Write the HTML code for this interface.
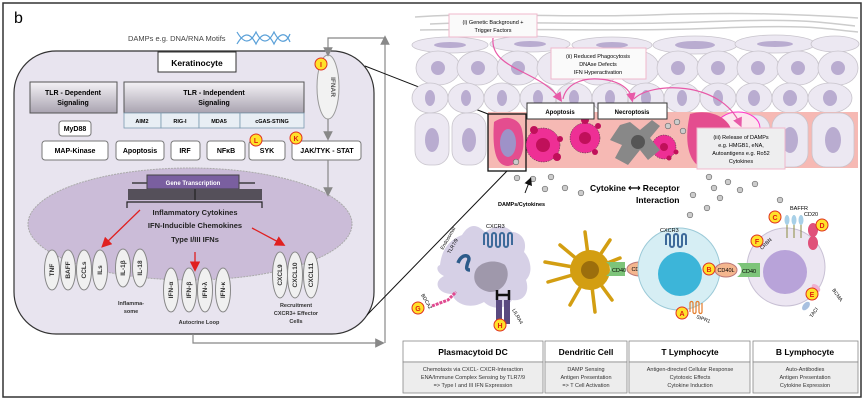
<!DOCTYPE html>
<html><head><meta charset="utf-8"><style>
html,body{margin:0;padding:0;background:#fff}
svg{display:block}
text{font-family:"Liberation Sans",Arial,sans-serif}
</style></head><body>
<svg width="865" height="405" viewBox="0 0 865 405" xmlns="http://www.w3.org/2000/svg">
<defs>
<linearGradient id="tg" x1="0" y1="0" x2="0" y2="1"><stop offset="0" stop-color="#f4f2f6"/><stop offset="1" stop-color="#a9a3b0"/></linearGradient>
<marker id="ga" markerWidth="8" markerHeight="8" refX="4" refY="4" orient="auto"><path d="M0,0 L8,4 L0,8z" fill="#888"/></marker>
<marker id="ra" markerWidth="8" markerHeight="8" refX="5" refY="4" orient="auto"><path d="M0,0 L8,4 L0,8z" fill="#e02020"/></marker>
<marker id="pa" markerWidth="8" markerHeight="8" refX="5" refY="4" orient="auto"><path d="M0,0 L8,4 L0,8z" fill="#e85aa8"/></marker>
<marker id="ka" markerWidth="8" markerHeight="8" refX="5" refY="4" orient="auto"><path d="M0,0 L8,4 L0,8z" fill="#111"/></marker>
</defs>
<rect x="3" y="3" width="858" height="394" fill="#fff" stroke="#333" stroke-width="1.5"/>
<text x="14" y="23" font-size="16">b</text>

<text x="128" y="41" font-size="7.5" fill="#444">DAMPs e.g. DNA/RNA Motifs</text>
<path d="M237,32 C244,44 250,44 256,32 C262,44 268,44 274,32 C280,44 286,44 290,34" fill="none" stroke="#5aa0d8" stroke-width="1.2"/>
<path d="M237,44 C244,32 250,32 256,44 C262,32 268,32 274,44 C280,32 286,32 290,42" fill="none" stroke="#5aa0d8" stroke-width="1.2"/>
<rect x="14" y="51" width="360" height="283" rx="42" fill="#e8e4ef" stroke="#333" stroke-width="1.2"/>
<ellipse cx="190" cy="224" rx="162" ry="56" fill="#cbbcd8" stroke="#aaa" stroke-dasharray="2,1"/>
<rect x="158" y="52" width="78" height="20" fill="#fff" stroke="#333"/>
<text x="197" y="66" font-size="8.5" font-weight="bold" text-anchor="middle">Keratinocyte</text>
<rect x="30" y="82" width="87" height="31" fill="url(#tg)" stroke="#555"/>
<text x="73" y="95" font-size="7" font-weight="bold" text-anchor="middle">TLR - Dependent</text>
<text x="73" y="105" font-size="7" font-weight="bold" text-anchor="middle">Signaling</text>
<rect x="124" y="82" width="180" height="31" fill="url(#tg)" stroke="#555"/>
<text x="214" y="95" font-size="7" font-weight="bold" text-anchor="middle">TLR - Independent</text>
<text x="214" y="105" font-size="7" font-weight="bold" text-anchor="middle">Signaling</text>
<g fill="#e8eef4" stroke="#7a9ab0" stroke-width="0.8">
<rect x="124" y="113" width="37" height="15"/><rect x="161" y="113" width="38" height="15"/><rect x="199" y="113" width="41" height="15"/><rect x="240" y="113" width="64" height="15"/></g>
<g font-size="5.5" font-weight="bold" text-anchor="middle">
<text x="142" y="123">AIM2</text><text x="180" y="123">RIG-I</text><text x="219" y="123">MDA5</text><text x="272" y="123">cGAS-STING</text></g>
<g fill="#fff" stroke="#777">
<rect x="59" y="121" width="32" height="15" rx="3"/>
<rect x="42" y="141" width="66" height="19" rx="3"/><rect x="116" y="141" width="48" height="19" rx="3"/>
<rect x="171" y="141" width="29" height="19" rx="3"/><rect x="207" y="141" width="38" height="19" rx="3"/>
<rect x="249" y="141" width="36" height="19" rx="3"/><rect x="292" y="141" width="69" height="19" rx="3"/></g>
<g font-size="7" font-weight="bold" text-anchor="middle">
<text x="75" y="131">MyD88</text><text x="75" y="153">MAP-Kinase</text><text x="140" y="153">Apoptosis</text>
<text x="185" y="153">IRF</text><text x="226" y="153">NFκB</text><text x="267" y="153">SYK</text><text x="327" y="153">JAK/TYK - STAT</text></g>
<ellipse cx="328" cy="87" rx="11" ry="32" fill="#f2f2f2" stroke="#999"/>
<text x="0" y="0" font-size="6.5" font-weight="bold" fill="#555" transform="translate(331,87) rotate(90)" text-anchor="middle">IFNAR</text>
<path d="M193,334 V343 H380" fill="none" stroke="#888" stroke-width="1.2" marker-end="url(#ga)"/>
<path d="M385,343 V40" fill="none" stroke="#888" stroke-width="1.2" marker-end="url(#ga)"/>
<path d="M385,38 H328 V52" fill="none" stroke="#888" stroke-width="1.2" marker-end="url(#ga)"/>
<path d="M328,119 V136" stroke="#888" stroke-width="1.2" marker-end="url(#ga)"/>
<path d="M328,160 V192" stroke="#888" stroke-width="1.2" marker-end="url(#ga)"/>
<line x1="132" y1="183" x2="255" y2="183" stroke="#222" stroke-width="1.2"/>
<rect x="147" y="175" width="92" height="14" fill="#7a5fa0" stroke="#444"/>
<text x="193" y="185" font-size="6" font-weight="bold" fill="#fff" text-anchor="middle">Gene Transcription</text>
<rect x="128" y="189" width="134" height="11" fill="#55505a"/>
<path d="M195,189 V200 M127,208 V202 H262 V208" fill="none" stroke="#222" stroke-width="1.2"/>
<g font-size="7.5" font-weight="bold" text-anchor="middle" fill="#222">
<text x="195" y="215">Inflammatory Cytokines</text><text x="195" y="228">IFN-Inducible Chemokines</text><text x="195" y="242">Type I/III IFNs</text></g>
<g stroke="#e02020" stroke-width="1.3" fill="none">
<line x1="140" y1="210" x2="104" y2="245" marker-end="url(#ra)"/>
<line x1="252" y1="228" x2="282" y2="244" marker-end="url(#ra)"/>
<line x1="195" y1="252" x2="195" y2="268" marker-end="url(#ra)"/></g>
<g fill="#f0f0f0" stroke="#888">
<ellipse cx="52" cy="270" rx="7.5" ry="20"/><ellipse cx="68" cy="270" rx="7.5" ry="20"/><ellipse cx="84" cy="270" rx="7.5" ry="20"/><ellipse cx="100" cy="270" rx="7.5" ry="20"/>
<ellipse cx="123" cy="268" rx="7.5" ry="19"/><ellipse cx="140" cy="268" rx="7.5" ry="19"/>
<ellipse cx="171" cy="290" rx="7.5" ry="22"/><ellipse cx="189" cy="290" rx="7.5" ry="22"/><ellipse cx="205" cy="290" rx="7.5" ry="22"/><ellipse cx="223" cy="290" rx="7.5" ry="22"/>
<ellipse cx="280" cy="275" rx="7.5" ry="23"/><ellipse cx="295" cy="275" rx="7.5" ry="23"/><ellipse cx="311" cy="275" rx="7.5" ry="23"/></g>
<g font-size="6.5" font-weight="bold" fill="#333" text-anchor="middle">
<text transform="translate(54,270) rotate(-90)">TNF</text><text transform="translate(70,270) rotate(-90)">BAFF</text>
<text transform="translate(86,270) rotate(-90)">CCLs</text><text transform="translate(102,270) rotate(-90)">ILs</text>
<text transform="translate(125,268) rotate(-90)">IL-1β</text><text transform="translate(142,268) rotate(-90)">IL-18</text>
<text transform="translate(173,290) rotate(-90)">IFN-α</text><text transform="translate(191,290) rotate(-90)">IFN-β</text>
<text transform="translate(207,290) rotate(-90)">IFN-λ</text><text transform="translate(225,290) rotate(-90)">IFN-κ</text>
<text transform="translate(282,275) rotate(-90)">CXCL9</text><text transform="translate(297,275) rotate(-90)">CXCL10</text>
<text transform="translate(313,275) rotate(-90)">CXCL11</text></g>
<g font-size="5.5" font-weight="bold" fill="#333" text-anchor="middle">
<text x="131" y="305">Inflamma-</text><text x="131" y="313">some</text>
<text x="199" y="324">Autocrine Loop</text>
<text x="296" y="307">Recruitment</text><text x="296" y="315">CXCR3+ Effector</text><text x="296" y="323">Cells</text></g>
<line x1="365" y1="66" x2="488" y2="114" stroke="#111" stroke-width="1"/>
<line x1="367" y1="315" x2="507" y2="171" stroke="#111" stroke-width="1"/>

<g stroke="#ccc" fill="none" stroke-width="1.5">
<path d="M415,17 C480,12 560,18 650,15 S800,14 858,18"/>
<path d="M430,24 C500,20 600,26 700,22 S820,22 855,26"/>
<path d="M420,30 C520,28 620,32 720,28 S830,30 858,32"/></g>
<g fill="#ece8f2" stroke="#c8c4cc" stroke-width="0.8">
<ellipse cx="450" cy="45" rx="38" ry="8"/><ellipse cx="530" cy="44" rx="40" ry="8"/><ellipse cx="612" cy="45" rx="40" ry="8"/>
<ellipse cx="695" cy="45" rx="42" ry="9"/><ellipse cx="775" cy="44" rx="40" ry="9"/><ellipse cx="835" cy="44" rx="24" ry="8"/>
</g>
<g fill="#ece8f2" stroke="#c8c4cc" stroke-width="0.8">
<ellipse cx="438" cy="68" rx="22" ry="17"/><ellipse cx="478" cy="68" rx="21" ry="17"/><ellipse cx="518" cy="68" rx="21" ry="17"/>
<ellipse cx="558" cy="68" rx="21" ry="17"/><ellipse cx="598" cy="68" rx="21" ry="17"/><ellipse cx="638" cy="68" rx="21" ry="17"/>
<ellipse cx="678" cy="68" rx="21" ry="17"/><ellipse cx="718" cy="68" rx="21" ry="17"/><ellipse cx="758" cy="68" rx="21" ry="17"/>
<ellipse cx="798" cy="68" rx="21" ry="17"/><ellipse cx="838" cy="68" rx="20" ry="17"/>
<ellipse cx="430" cy="98" rx="18" ry="15"/><ellipse cx="466" cy="98" rx="18" ry="15"/><ellipse cx="502" cy="98" rx="18" ry="15"/>
<ellipse cx="538" cy="98" rx="18" ry="15"/><ellipse cx="574" cy="98" rx="18" ry="15"/><ellipse cx="610" cy="98" rx="18" ry="15"/>
<ellipse cx="646" cy="98" rx="18" ry="15"/><ellipse cx="682" cy="98" rx="18" ry="15"/><ellipse cx="718" cy="98" rx="18" ry="15"/>
<ellipse cx="754" cy="98" rx="18" ry="15"/><ellipse cx="790" cy="98" rx="18" ry="15"/><ellipse cx="830" cy="98" rx="22" ry="15"/>
</g>
<g fill="#b9acd0">
<ellipse cx="450" cy="45" rx="16" ry="3"/><ellipse cx="530" cy="44" rx="16" ry="3"/><ellipse cx="612" cy="45" rx="16" ry="3"/>
<ellipse cx="695" cy="45" rx="20" ry="4"/><ellipse cx="775" cy="44" rx="18" ry="3"/>
<circle cx="438" cy="68" r="7"/><circle cx="478" cy="68" r="7"/><circle cx="518" cy="68" r="7"/><circle cx="558" cy="68" r="7"/>
<circle cx="598" cy="68" r="7"/><circle cx="638" cy="68" r="7"/><circle cx="678" cy="68" r="7"/><circle cx="718" cy="68" r="7"/>
<circle cx="758" cy="68" r="7"/><circle cx="798" cy="68" r="7"/><circle cx="838" cy="68" r="7"/>
<ellipse cx="430" cy="98" rx="5" ry="8"/><ellipse cx="466" cy="98" rx="5" ry="8"/><ellipse cx="502" cy="98" rx="5" ry="8"/>
<ellipse cx="538" cy="98" rx="5" ry="8"/><ellipse cx="574" cy="98" rx="5" ry="8"/><ellipse cx="610" cy="98" rx="5" ry="8"/>
<ellipse cx="646" cy="98" rx="5" ry="8"/><ellipse cx="682" cy="98" rx="5" ry="8"/><ellipse cx="718" cy="98" rx="5" ry="8"/>
<ellipse cx="754" cy="98" rx="6" ry="8"/><ellipse cx="790" cy="98" rx="7" ry="8"/><ellipse cx="830" cy="98" rx="7" ry="8"/>
</g>
<rect x="488" y="112" width="370" height="56" fill="#f6b9b4"/>
<g fill="#ece8f2" stroke="#c8c4cc" stroke-width="0.8">
<rect x="415" y="113" width="34" height="52" rx="14"/><rect x="452" y="113" width="34" height="52" rx="14"/>
<rect x="738" y="115" width="32" height="52" rx="14"/><rect x="772" y="113" width="36" height="54" rx="14"/><rect x="812" y="113" width="42" height="54" rx="14"/></g>
<g fill="#b9acd0"><ellipse cx="432" cy="140" rx="7" ry="12"/><ellipse cx="469" cy="140" rx="7" ry="12"/>
<ellipse cx="790" cy="140" rx="8" ry="13"/><ellipse cx="833" cy="140" rx="8" ry="13"/></g>
<ellipse cx="738" cy="128" rx="22" ry="16" fill="#fce6ee" stroke="#f3c"/>
<path d="M494,122 C505,114 520,118 522,130 C526,148 522,164 508,166 C496,166 492,150 494,122z" fill="#e44d8f"/>
<ellipse cx="508" cy="143" rx="8" ry="14" fill="#9e92c8"/>
<rect x="488" y="114" width="38" height="57" fill="none" stroke="#111" stroke-width="1.3"/>
<g stroke="#333" stroke-width="0.5" stroke-dasharray="1.5,1">
<circle cx="543" cy="145" r="17" fill="#ee2f95"/><circle cx="585" cy="138" r="15" fill="#ee2f95"/><circle cx="664" cy="147" r="12" fill="#ee2f95"/></g>
<g fill="#c0105a"><circle cx="543" cy="145" r="7"/><circle cx="585" cy="138" r="6"/><circle cx="664" cy="147" r="4"/>
<circle cx="534" cy="130" r="4"/><circle cx="560" cy="139" r="3"/><circle cx="557" cy="157" r="4"/><circle cx="585" cy="120" r="4"/>
<circle cx="598" cy="126" r="3"/><circle cx="595" cy="152" r="3"/><circle cx="669" cy="158" r="2.5"/><circle cx="676" cy="152" r="2.5"/></g>
<path d="M620,125 L630,122 640,130 652,120 660,126 650,138 660,150 648,160 640,150 628,165 615,158 622,145 610,140z" fill="#888"/>
<circle cx="638" cy="142" r="7" fill="#555"/>
<path d="M690,114 C710,108 732,118 732,135 L732,165 L700,167 C688,160 684,140 690,114z" fill="#e44d8f"/>
<rect x="449" y="14" width="88" height="23" fill="#fafafa" stroke="#f0b8cc"/>
<text x="493" y="24" font-size="5.5" text-anchor="middle">(i) Genetic Background +</text>
<text x="493" y="32" font-size="5.5" text-anchor="middle">Trigger Factors</text>
<rect x="551" y="48" width="95" height="31" fill="#fafafa" stroke="#f0b8cc"/>
<text x="598" y="58" font-size="5.5" text-anchor="middle">(ii) Reduced Phagocytosis</text>
<text x="598" y="66" font-size="5.5" text-anchor="middle">DNAse Defects</text>
<text x="598" y="74" font-size="5.5" text-anchor="middle">IFN Hyperactivation</text>
<g fill="none" stroke="#e85aa8" stroke-width="1.2">
<path d="M493,38 C490,70 540,70 560,99" marker-end="url(#pa)"/>
<path d="M563,99 C566,84 582,78 598,79"/>
<path d="M598,79 C618,80 630,88 632,99" marker-end="url(#pa)"/>
<path d="M634,99 C650,82 720,80 740,124" marker-end="url(#pa)"/></g>
<rect x="527" y="103" width="67" height="16" fill="#fff" stroke="#333"/>
<text x="560" y="114" font-size="6" font-weight="bold" text-anchor="middle">Apoptosis</text>
<rect x="598" y="103" width="69" height="16" fill="#fff" stroke="#333"/>
<text x="632" y="114" font-size="6" font-weight="bold" text-anchor="middle">Necroptosis</text>
<rect x="697" y="128" width="88" height="41" fill="#eeeeef" stroke="#f0b8cc"/>
<g font-size="5.5" text-anchor="middle"><text x="741" y="139">(iii) Release of DAMPs</text><text x="741" y="147">e.g. HMGB1, eNA,</text>
<text x="741" y="155">Autoantigens e.g. Ro52</text><text x="741" y="163">Cytokines</text></g>
<g fill="#ccc" stroke="#666" stroke-width="0.6">
<circle cx="516" cy="162" r="2.8"/><circle cx="517" cy="178" r="2.8"/><circle cx="533" cy="179" r="2.8"/><circle cx="551" cy="177" r="2.8"/>
<circle cx="545" cy="189" r="2.8"/><circle cx="565" cy="188" r="2.8"/><circle cx="581" cy="193" r="2.8"/>
<circle cx="668" cy="126" r="2.8"/><circle cx="677" cy="122" r="2.8"/><circle cx="683" cy="131" r="2.8"/>
<circle cx="709" cy="177" r="2.8"/><circle cx="714" cy="188" r="2.8"/><circle cx="728" cy="182" r="2.8"/>
<circle cx="740" cy="190" r="2.8"/><circle cx="755" cy="184" r="2.8"/><circle cx="693" cy="195" r="2.8"/>
<circle cx="720" cy="198" r="2.8"/><circle cx="707" cy="208" r="2.8"/><circle cx="690" cy="215" r="2.8"/><circle cx="780" cy="200" r="2.8"/></g>
<text x="590" y="191" font-size="8.5" font-weight="bold">Cytokine ⟷ Receptor</text>
<text x="636" y="203" font-size="8.5" font-weight="bold">Interaction</text>
<line x1="525" y1="193" x2="530" y2="180" stroke="#111" marker-end="url(#ka)"/>
<text x="498" y="206" font-size="5.5" font-weight="bold">DAMPs/Cytokines</text>
<path d="M440,265 C442,248 450,240 462,235 C470,222 478,225 485,232 C495,225 505,224 512,232 C520,232 528,240 524,252 C530,258 534,272 526,280 C530,292 524,302 512,300 C504,312 490,308 484,302 C470,310 455,304 452,294 C438,294 432,282 444,276 C436,272 436,266 440,265z" fill="#d6d0e6"/>
<path d="M475,272 C478,262 495,258 505,265 C512,275 505,292 490,292 C478,290 472,282 475,272z" fill="#9f98ab"/>
<path d="M458,263 C462,252 472,255 468,262 C466,268 466,270 470,270" fill="none" stroke="#2c5b8a" stroke-width="3.5"/>
<path d="M484,245 v-10 a2,2 0 0 1 4,0 v10 a2,2 0 0 0 4,0 v-10 a2,2 0 0 1 4,0 v10 a2,2 0 0 0 4,0 v-10 a2,2 0 0 1 4,0 v10 a2,2 0 0 0 4,0 v-10 a2,2 0 0 1 4,0 v10" fill="none" stroke="#3d6a9a" stroke-width="2"/>
<path d="M432,306 L448,300 456,292" fill="none" stroke="#e04a90" stroke-width="3" stroke-dasharray="3,1"/>
<rect x="496" y="300" width="6" height="24" fill="#5a4a80"/><rect x="504" y="300" width="6" height="24" fill="#5a4a80"/>
<path d="M497,290 V300 M509,290 V300 M497,295 H509" stroke="#111" stroke-width="2.5" fill="none"/>
<text x="486" y="228" font-size="5.5">CXCR3</text>
<text transform="translate(443,250) rotate(-60)" font-size="5">Endosomal</text>
<text transform="translate(450,254) rotate(-60)" font-size="5">TLR7/9</text>
<text transform="translate(421,295) rotate(60)" font-size="5">BDCA2</text>
<text transform="translate(512,310) rotate(60)" font-size="5">LILRA4</text>
<g stroke="#d39e12" stroke-width="3.5" stroke-linecap="round">
<line x1="590" y1="270" x2="560" y2="245"/><line x1="590" y1="270" x2="545" y2="262"/><line x1="590" y1="270" x2="548" y2="282"/>
<line x1="590" y1="270" x2="570" y2="305"/><line x1="590" y1="270" x2="595" y2="312"/><line x1="590" y1="270" x2="612" y2="300"/>
<line x1="590" y1="270" x2="585" y2="232"/><line x1="590" y1="270" x2="610" y2="240"/><line x1="590" y1="270" x2="620" y2="258"/></g>
<circle cx="590" cy="270" r="20" fill="#d39e12"/>
<circle cx="590" cy="270" r="9" fill="#9c6e0c"/>
<path d="M606,262 L625,262 L625,276 L606,276 C612,272 612,266 606,262z" fill="#7dc47a"/>
<text x="612" y="272" font-size="5.5">CD40</text>
<ellipse cx="640" cy="269" rx="13" ry="7" fill="#f4b68e" stroke="#b77"/>
<text x="640" y="271" font-size="5.5" text-anchor="middle">CD40L</text>
<circle cx="679" cy="269" r="41" fill="#d6eef4" stroke="#9ccad8"/>
<circle cx="680" cy="274" r="22" fill="#3cb5d9"/>
<path d="M666,245 v-9 a2,2 0 0 1 4,0 v9 a2,2 0 0 0 4,0 v-9 a2,2 0 0 1 4,0 v9 a2,2 0 0 0 4,0 v-9 a2,2 0 0 1 4,0 v9" fill="none" stroke="#3d6a9a" stroke-width="2"/>
<text x="660" y="232" font-size="5.5">CXCR3</text>
<path d="M690,312 v-9 a1.5,1.5 0 0 1 3,0 v9 a1.5,1.5 0 0 0 3,0 v-9 a1.5,1.5 0 0 1 3,0 v9 a1.5,1.5 0 0 0 3,0 v-9" fill="none" stroke="#e47c2a" stroke-width="1.2"/>
<text transform="translate(696,318) rotate(20)" font-size="5">SIPR1</text>
<ellipse cx="726" cy="270" rx="11" ry="7" fill="#f4b68e" stroke="#b77"/>
<text x="726" y="272" font-size="5.5" text-anchor="middle">CD40L</text>
<circle cx="786" cy="267" r="39" fill="#ece6f2" stroke="#c8c0d4"/>
<circle cx="785" cy="272" r="22" fill="#b8a3d9"/>
<path d="M737,263 L760,263 L760,277 L737,277 C743,273 743,267 737,263z" fill="#7dc47a"/>
<text x="742" y="273" font-size="5.5">CD40</text>
<g stroke="#8a8a40" stroke-width="1"><line x1="787" y1="215" x2="787" y2="238"/><line x1="794" y1="215" x2="794" y2="238"/><line x1="801" y1="215" x2="801" y2="238"/></g>
<g fill="#a8d0e8"><ellipse cx="787" cy="220" rx="2.5" ry="5"/><ellipse cx="794" cy="220" rx="2.5" ry="5"/><ellipse cx="801" cy="220" rx="2.5" ry="5"/></g>
<text x="790" y="210" font-size="5.5">BAFFR</text>
<text x="804" y="216" font-size="5.5">CD20</text>
<ellipse cx="813" cy="230" rx="5" ry="7" fill="#e0507a"/><ellipse cx="813" cy="243" rx="5" ry="7" fill="#e0507a"/>
<text transform="translate(762,250) rotate(-45)" font-size="5">CRBN</text>
<ellipse cx="816" cy="288" rx="5" ry="3" fill="#f0b0d0" transform="rotate(40 816 288)"/>
<ellipse cx="806" cy="306" rx="5" ry="3" fill="#a8c0e0" transform="rotate(-50 806 306)"/>
<text transform="translate(832,290) rotate(55)" font-size="5">BCMA</text>
<text transform="translate(812,318) rotate(-55)" font-size="5">TACI</text>
<g fill="#ffe22a" stroke="#e03020" stroke-width="1">
<circle cx="321" cy="64" r="6"/><circle cx="256" cy="140" r="6"/><circle cx="296" cy="138" r="6"/>
<circle cx="418" cy="308" r="6"/><circle cx="500" cy="325" r="6"/><circle cx="682" cy="313" r="6"/><circle cx="709" cy="269" r="6"/>
<circle cx="775" cy="217" r="6"/><circle cx="822" cy="225" r="6"/><circle cx="812" cy="294" r="6"/><circle cx="757" cy="241" r="6"/></g>
<g font-size="7" font-weight="bold" fill="#e02010" text-anchor="middle">
<text x="321" y="67">I</text><text x="256" y="143">L</text><text x="296" y="141">K</text><text x="418" y="311">G</text>
<text x="500" y="328">H</text><text x="682" y="316">A</text><text x="709" y="272">B</text><text x="775" y="220">C</text>
<text x="822" y="228">D</text><text x="812" y="297">E</text><text x="757" y="244">F</text></g>
<g stroke="#888" stroke-width="0.8">
<rect x="403" y="341" width="140" height="21" fill="#fff"/><rect x="545" y="341" width="82" height="21" fill="#fff"/>
<rect x="629" y="341" width="121" height="21" fill="#fff"/><rect x="753" y="341" width="105" height="21" fill="#fff"/>
<rect x="403" y="362" width="140" height="31" fill="#ededed"/><rect x="545" y="362" width="82" height="31" fill="#ededed"/>
<rect x="629" y="362" width="121" height="31" fill="#ededed"/><rect x="753" y="362" width="105" height="31" fill="#ededed"/></g>
<g font-size="8.5" font-weight="bold" text-anchor="middle">
<text x="473" y="355">Plasmacytoid DC</text><text x="586" y="355">Dendritic Cell</text>
<text x="690" y="355">T Lymphocyte</text><text x="805" y="355">B Lymphocyte</text></g>
<g font-size="5.5" text-anchor="middle" fill="#333">
<text x="473" y="371">Chemotaxis via CXCL- CXCR-Interaction</text><text x="473" y="379">ENA/Immune Complex Sensing by TLR7/9</text><text x="473" y="387">=&gt; Type I and III IFN Expression</text>
<text x="586" y="371">DAMP Sensing</text><text x="586" y="379">Antigen Presentation</text><text x="586" y="387">=&gt; T Cell Activation</text>
<text x="690" y="371">Antigen-directed Cellular Response</text><text x="690" y="379">Cytotoxic Effects</text><text x="690" y="387">Cytokine Induction</text>
<text x="805" y="371">Auto-Antibodies</text><text x="805" y="379">Antigen Presentation</text><text x="805" y="387">Cytokine Expression</text></g>
</svg>
</body></html>
